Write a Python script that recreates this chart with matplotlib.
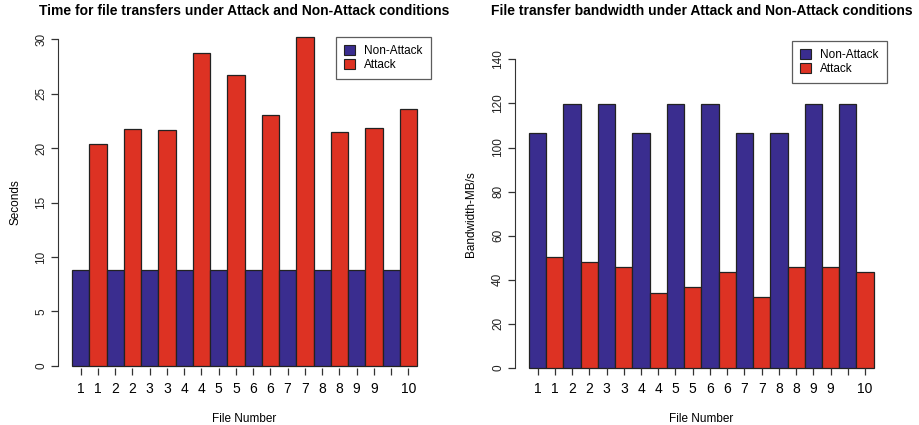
import matplotlib
matplotlib.use("Agg")
import matplotlib.pyplot as plt
import numpy as np
from matplotlib.patches import Patch

plt.rcParams['font.family'] = ['Liberation Sans', 'DejaVu Sans']

# data
files = [1, 2, 3, 4, 5, 6, 7, 8, 9, 10]
time_non_attack = [8.8, 8.8, 8.8, 8.8, 8.8, 8.8, 8.8, 8.8, 8.8, 8.8]
time_attack = [20.4, 21.75, 21.7, 28.7, 26.7, 23.05, 30.2, 21.5, 21.85, 23.6]
bw_non_attack = [106.6, 119.6, 119.6, 106.6, 119.6, 119.6, 106.6, 106.6, 119.6, 119.6]
bw_attack = [50.5, 47.9, 45.7, 34.0, 36.6, 43.7, 32.1, 45.7, 45.7, 43.7]
# R dropped the second "10" label because it collided with the first
tick_labels = ['1', '1', '2', '2', '3', '3', '4', '4', '5', '5',
               '6', '6', '7', '7', '8', '8', '9', '9', '', '10']
series_names = ['Non-Attack', 'Attack']

blue = '#3a2d8f'
red = '#dd3223'
W, H = 919, 425

fig = plt.figure(figsize=(W / 100, H / 100), dpi=100)


def px_axes(left, top, right, bottom):
    return fig.add_axes([left / W, 1 - bottom / H, (right - left) / W, (bottom - top) / H])


def draw_panel(ax, non_attack, attack, ylim, yticks, title, ylabel, spine_y, leg_box, ypad):
    # bars side by side, no gaps (beside=TRUE, space=0)
    heights = []
    cols = []
    for a, b in zip(non_attack, attack):
        heights += [a, b]
        cols += [blue, red]
    x = np.arange(len(heights)) + 0.5
    ax.bar(x, heights, width=1.0, color=cols, edgecolor='#222222', linewidth=0.9)

    n = len(heights)
    ax.set_xlim(-0.04 * n, n * 1.04)
    ax.set_ylim(*ylim)
    ax.set_xticks(x)
    ax.set_xticklabels(tick_labels, fontsize=8.5, color='#222222')
    ax.set_yticks(yticks)
    ax.set_yticklabels([str(t) for t in yticks], rotation=90, va='center',
                       fontsize=8.5, color='#222222')

    for s in ['top', 'right']:
        ax.spines[s].set_visible(False)
    ax.spines['bottom'].set_visible(False)
    ax.spines['bottom'].set_position(('data', spine_y))
    ax.spines['left'].set_bounds(yticks[0], yticks[-1])
    ax.spines['left'].set_color('#333333')
    ax.tick_params(axis='both', direction='out', length=5, width=0.9, color='#333333')
    ax.tick_params(axis='x', pad=5)
    ax.tick_params(axis='y', pad=3)

    # both titles sit on the same line at the top of the figure
    bb = ax.get_position()
    fig.text((bb.x0 + bb.x1) / 2, 1 - 11 / H, title, ha='center', va='center',
             fontsize=10, fontweight='bold')
    ax.set_ylabel(ylabel, fontsize=8.5, labelpad=ypad)
    ax.set_xlabel('File Number', fontsize=8.5, labelpad=12)

    handles = [Patch(facecolor=blue, edgecolor='#222222', linewidth=0.8),
               Patch(facecolor=red, edgecolor='#222222', linewidth=0.8)]
    leg = ax.legend(handles, series_names, loc='upper right', bbox_to_anchor=leg_box,
                    bbox_transform=fig.transFigure, fontsize=8.5, frameon=True,
                    fancybox=False, handlelength=0.9, handleheight=0.9,
                    handletextpad=0.8, borderpad=0.7, labelspacing=0.15,
                    borderaxespad=0)
    leg.get_frame().set_edgecolor('#333333')
    leg.get_frame().set_linewidth(0.9)


ax1 = px_axes(58.2, 26.3, 430.8, 378.8)
draw_panel(ax1, time_non_attack, time_attack, (-1.2, 31.2), [0, 5, 10, 15, 20, 25, 30],
           'Time for file transfers under Attack and Non-Attack conditions', 'Seconds',
           -0.21, (431 / W, 1 - 37 / H), 10)

ax2 = px_axes(515.2, 47.0, 887.5, 380.3)
draw_panel(ax2, bw_non_attack, bw_attack, (-5.6, 145.6), [0, 20, 40, 60, 80, 100, 120, 140],
           'File transfer bandwidth under Attack and Non-Attack conditions', 'Bandwidth-MB/s',
           0.0, (887 / W, 1 - 41 / H), 11)

fig.savefig('out.png', dpi=100)
